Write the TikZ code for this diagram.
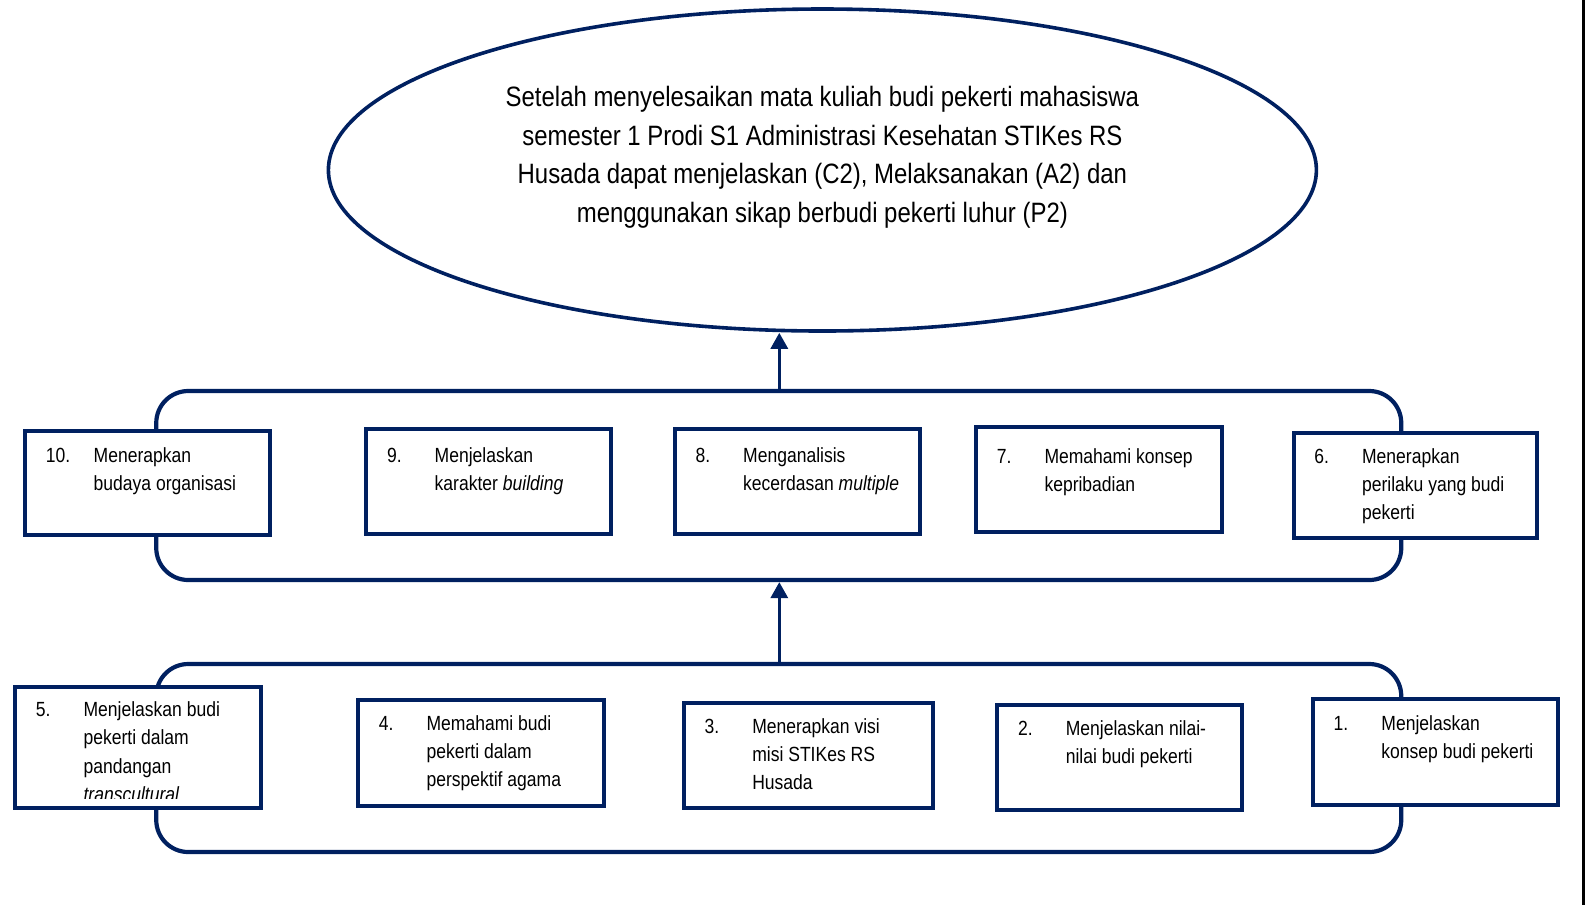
\documentclass[tikz,border=0pt]{standalone}
\usepackage{fontspec}
\setmainfont{Liberation Sans}[FakeStretch=0.855]
\usetikzlibrary{arrows.meta,shapes.geometric,fit}
\definecolor{navy}{HTML}{002060}
\newcommand\boxfont{\fontsize{10.25pt}{14.2pt}\selectfont}
\newcommand\goalfont{\fontsize{14pt}{19.3pt}\selectfont}
\tikzset{
  goal/.style={draw=navy, line width=1.8pt, ellipse, inner sep=0pt,
    minimum width=494pt, minimum height=161pt},
  goaltxt/.style={anchor=base, inner sep=0pt, font=\goalfont, text=black},
  grp/.style={draw=navy, line width=2.1pt, rounded corners=16pt, inner sep=0pt,
    minimum width=622.5pt},
  kotakst/.style={draw=navy, line width=2pt, fill=white, inner sep=0pt},
  num/.style={anchor=base west, inner sep=0pt, font=\boxfont, text=black},
  txt/.style={anchor=base west, inner sep=0pt, font=\boxfont, text=black},
  arr/.style={draw=navy, line width=1.6pt, -{Triangle[width=8.5pt,length=8pt]}},
}
\newcommand\kotak[8]{%
  \node[kotakst, fit={(#2+2,#3+2) (#4-2,#5-2)}] (#1) {};
  \node[num] (#1n) at (#2+22.3,#7) {#6};
  \node[txt] (#1t) at (#2+70,#7) {\begin{tabular}[t]{@{}l@{}}#8\end{tabular}};
}
\begin{document}
\begin{tikzpicture}[x=0.5pt,y=-0.5pt]
\useasboundingbox (0,0) rectangle (1591,907);
% goal ellipse
\node[goal] (goal) at (822.4,170) {};
\node[goaltxt] (gt) at (822.4,106.5) {\begin{tabular}[t]{@{}c@{}}
Setelah menyelesaikan mata kuliah budi pekerti mahasiswa\\
semester 1 Prodi S1 Administrasi Kesehatan STIKes RS\\
Husada dapat menjelaskan (C2), Melaksanakan (A2) dan\\
menggunakan sikap berbudi pekerti luhur (P2)\end{tabular}};
% groups
\node[grp, minimum height=94.5pt] (midgrp) at (778.75,485.5) {};
\node[grp, minimum height=94pt] (botgrp) at (778.75,758) {};
% arrows
\coordinate (xa) at (779.3,0);
\draw[arr] (midgrp.north -| xa) -- (goal.south -| xa);
\draw[arr] (botgrp.north -| xa) -- (midgrp.south -| xa);
% middle row
\kotak{b10}{23.3}{429.2}{271.9}{536.8}{10.}{462}{Menerapkan\\budaya organisasi}
\kotak{b9}{364.3}{427.2}{612.9}{535.8}{9.}{462}{Menjelaskan\\karakter \textit{building}}
\kotak{b8}{672.8}{427.2}{922.4}{535.8}{8.}{462}{Menganalisis\\kecerdasan \textit{multiple}}
\kotak{b7}{974.1}{425.2}{1223.8}{533.7}{7.}{463}{Memahami konsep\\kepribadian}
\kotak{b6}{1291.7}{431.3}{1539.3}{539.8}{6.}{463}{Menerapkan\\perilaku yang budi\\pekerti}
% bottom row
\node[kotakst, fit={(13.2+2,684.9+2) (262.8-2,809.7-2)}] (b5) {};
\node[num] (b5n) at (13.2+22.3,716.5) {5.};
\begin{scope}
\clip (13.2,684.9) rectangle (262.8,798);
\node[txt] (b5t) at (13.2+70,716.5) {\begin{tabular}[t]{@{}l@{}}Menjelaskan budi\\pekerti dalam\\pandangan\\\textit{transcultural}\end{tabular}};
\end{scope}
\kotak{b4}{356.2}{698.1}{605.8}{807.7}{4.}{730}{Memahami budi\\pekerti dalam\\perspektif agama}
\kotak{b3}{681.9}{701.2}{934.5}{809.7}{3.}{733}{Menerapkan visi\\misi STIKes RS\\Husada}
\kotak{b2}{995.4}{703.2}{1244.0}{811.8}{2.}{735}{Menjelaskan nilai-\\nilai budi pekerti}
\kotak{b1}{1311.0}{697.1}{1559.6}{806.7}{1.}{730}{Menjelaskan\\konsep budi pekerti}
% page edge line
\coordinate (lt) at (1583,0);
\coordinate (lb) at (1583,905);
\draw[line width=1.5pt, black] (lt) -- (lb);
\end{tikzpicture}
\end{document}
